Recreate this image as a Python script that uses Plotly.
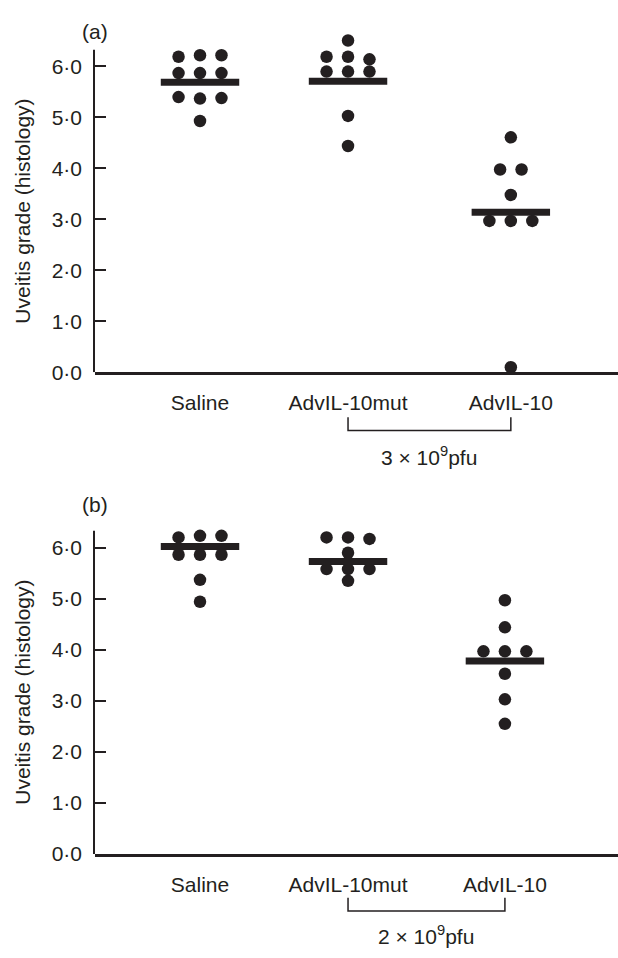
import plotly.graph_objects as go

# ---------------- data ----------------
categories = ["Saline", "AdvIL-10mut", "AdvIL-10"]
tick_values = [0, 1, 2, 3, 4, 5, 6]
tick_labels = ["0·0", "1·0", "2·0", "3·0", "4·0", "5·0", "6·0"]

# Panel (a): 3 x 10^9 pfu  (uveitis grade per animal)
a_saline = [6.19, 6.22, 6.22, 5.87, 5.87, 5.87, 5.40, 5.37, 5.38, 4.93]
a_saline_col = [-1, 0, 1, -1, 0, 1, -1, 0, 1, 0]
a_mut = [6.51, 6.19, 6.19, 6.14, 5.90, 5.90, 5.90, 5.03, 4.44]
a_mut_col = [0, -1, 0, 1, -1, 0, 1, 0, 0]
a_il10 = [4.61, 3.98, 3.98, 3.48, 2.97, 2.97, 2.97, 0.10]
a_il10_col = [0, -0.5, 0.5, 0, -1, 0, 1, 0]
a_means = [5.69, 5.71, 3.14]

# Panel (b): 2 x 10^9 pfu
b_saline = [6.20, 6.23, 6.23, 5.86, 5.86, 5.86, 5.37, 4.94]
b_saline_col = [-1, 0, 1, -1, 0, 1, 0, 0]
b_mut = [6.20, 6.20, 6.17, 5.90, 5.58, 5.58, 5.58, 5.35]
b_mut_col = [-1, 0, 1, 0, -1, 0, 1, 0]
b_il10 = [4.97, 4.44, 3.97, 3.97, 3.97, 3.53, 3.03, 2.55]
b_il10_col = [0, 0, -1, 0, 1, 0, 0, 0]
b_means = [6.02, 5.73, 3.78]

dose_a = "3 × 10<sup>9</sup>pfu"
dose_b = "2 × 10<sup>9</sup>pfu"
y_title = "Uveitis grade (histology)"

# ---------------- layout constants ----------------
INK = "#231f20"
FONT = "Liberation Sans, Arial, Helvetica, sans-serif"
FS = 21
CAT_X_A = [1.0, 2.0, 3.10]
CAT_X_B = [1.0, 2.0, 3.06]
COL_STEP = 0.145
BAR_HALF = 0.265
X_RANGE = [0.2905, 3.824]
Y_RANGE = [0, 6.6]
Y_AXIS_TOP = 6.33
DOM_A = [0.6068, 0.9621]
DOM_B = [0.0981, 0.4541]
TITLE_Y = [0.7770, 0.2690]

fig = go.Figure()


def add_panel(groups, cols, means, cat_x, xa, ya):
    for vals, cs, cx in zip(groups, cols, cat_x):
        fig.add_trace(go.Scatter(
            x=[cx + c * COL_STEP for c in cs], y=vals, mode="markers",
            marker=dict(size=12.5, color=INK), cliponaxis=False,
            xaxis=xa, yaxis=ya, showlegend=False, hoverinfo="y"))
    for m, cx in zip(means, cat_x):
        fig.add_trace(go.Scatter(
            x=[cx - BAR_HALF, cx + BAR_HALF], y=[m, m], mode="lines",
            line=dict(color=INK, width=7), cliponaxis=False,
            xaxis=xa, yaxis=ya, showlegend=False, hoverinfo="y"))


add_panel([a_saline, a_mut, a_il10], [a_saline_col, a_mut_col, a_il10_col],
          a_means, CAT_X_A, "x", "y")
add_panel([b_saline, b_mut, b_il10], [b_saline_col, b_mut_col, b_il10_col],
          b_means, CAT_X_B, "x2", "y2")

xcommon = dict(range=X_RANGE, showline=True, linecolor=INK, linewidth=2.5,
               ticks="", showgrid=False, zeroline=False,
               tickfont=dict(family=FONT, size=FS, color=INK),
               ticklabelstandoff=10, fixedrange=True)
ycommon = dict(range=Y_RANGE, showline=False,
               ticks="inside", ticklen=11, tickwidth=1.5, tickcolor=INK,
               tickvals=tick_values, ticktext=tick_labels,
               showgrid=False, zeroline=False,
               tickfont=dict(family=FONT, size=FS, color=INK),
               ticklabelstandoff=12, fixedrange=True)

fig.update_layout(
    width=618, height=958,
    margin=dict(l=95, r=0, t=0, b=0),
    paper_bgcolor="white", plot_bgcolor="white",
    xaxis=dict(domain=[0, 1], anchor="y", tickvals=CAT_X_A, ticktext=categories, **xcommon),
    yaxis=dict(domain=DOM_A, anchor="x", **ycommon),
    xaxis2=dict(domain=[0, 1], anchor="y2", tickvals=CAT_X_B, ticktext=categories, **xcommon),
    yaxis2=dict(domain=DOM_B, anchor="x2", **ycommon),
    showlegend=False,
)

# vertical axis lines, stopping just above 6.0
for ya in ("y", "y2"):
    fig.add_shape(type="line", xref="paper", yref=ya, x0=-0.0019, x1=-0.0019,
                  y0=Y_RANGE[0], y1=Y_AXIS_TOP, line=dict(color=INK, width=2))

# brackets and dose labels
for xa, cx, ytop, ybot, label, ylab in [
    ("x", CAT_X_A, 0.5595, 0.5454, dose_a, 0.5190),
    ("x2", CAT_X_B, 0.0519, 0.0379, dose_b, 0.0130),
]:
    x1, x2 = cx[1], cx[2]
    fig.add_shape(type="path", xref=xa, yref="paper",
                  path=f"M {x1},{ytop} L {x1},{ybot} L {x2},{ybot} L {x2},{ytop}",
                  line=dict(color=INK, width=1.5))
    fig.add_annotation(x=(x1 + x2) / 2, y=ylab, xref=xa, yref="paper",
                       text=label, showarrow=False, xanchor="center", yanchor="middle",
                       font=dict(family=FONT, size=21, color=INK))

# panel letters
for txt, y in [("(a)", 0.9666), ("(b)", 0.4676)]:
    fig.add_annotation(x=0.0, y=y, xref="paper", yref="paper", text=txt,
                       showarrow=False, xanchor="center", yanchor="middle",
                       font=dict(family=FONT, size=FS, color=INK))

# y-axis titles
for ty in TITLE_Y:
    fig.add_annotation(x=-0.1386, y=ty, xref="paper", yref="paper",
                       text=y_title, textangle=-90, showarrow=False,
                       xanchor="center", yanchor="middle",
                       font=dict(family=FONT, size=FS, color=INK))

fig.write_html("out.html")
